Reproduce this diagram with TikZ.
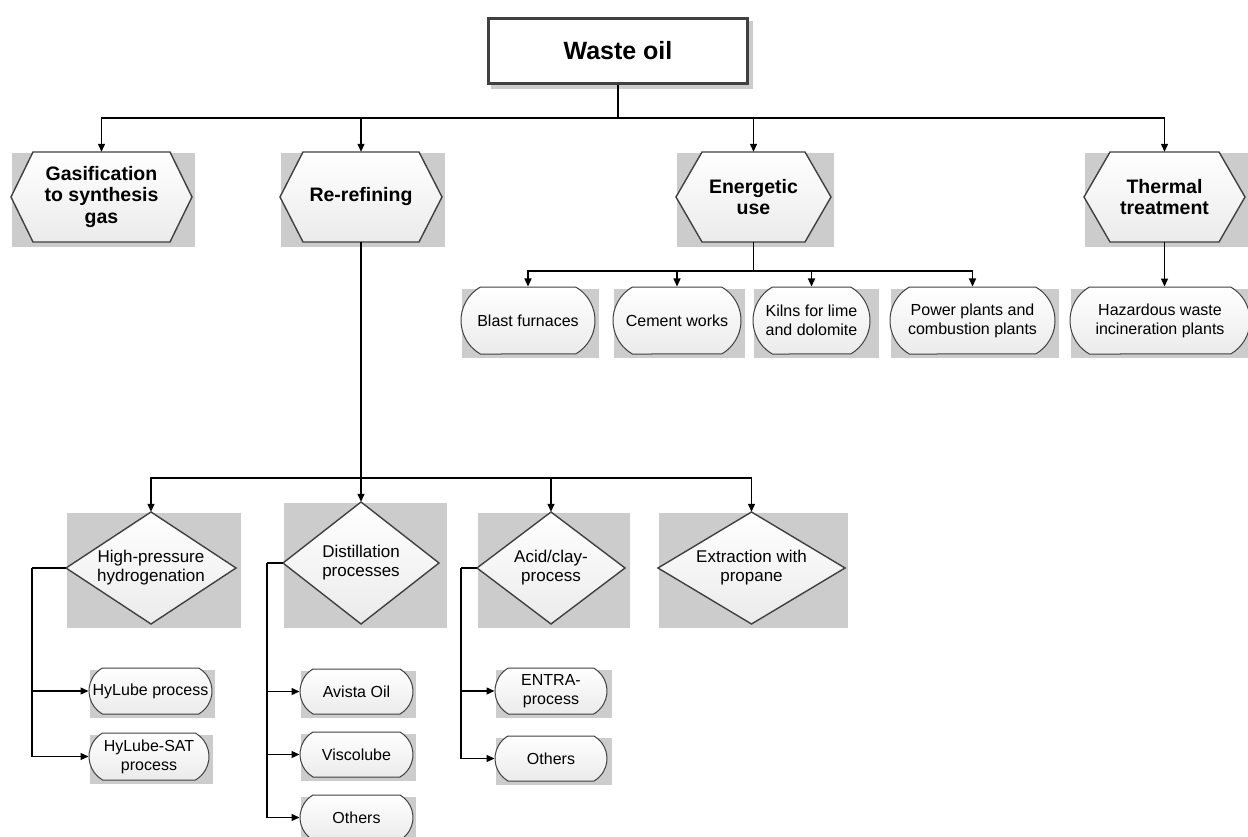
\documentclass[tikz,border=0pt]{standalone}
\usepackage{fontspec}
\setmainfont{Liberation Sans}
\usetikzlibrary{arrows.meta,shapes.misc,calc}

\definecolor{edge}{HTML}{404040}
\definecolor{backgray}{HTML}{CCCCCC}
\definecolor{fillbot}{HTML}{EBEBEB}

\tikzset{
  wire/.style={draw=black, line width=1.3},
  conn/.style={wire, -{Triangle[length=8,width=7]}},
  shapeline/.style={draw=edge, line width=1.4, top color=white, bottom color=fillbot},
  holder/.style={draw=none, inner sep=0, align=center},
  hexfont/.style={font=\bfseries\fontsize{19.5}{21.5}\selectfont},
  diafont/.style={font=\fontsize{17}{19}\selectfont},
  pill/.style={rounded rectangle, rounded rectangle arc length=120,
    draw=edge, line width=1, top color=white, bottom color=fillbot,
    inner sep=0, align=center, font=\fontsize{16}{19}\selectfont},
}

% hexagon: name, left, right, top, bottom, inset, text
\newcommand\hexnode[7]{%
  \fill[backgray] (#2+1,#4+1) rectangle (#3+3,#5+5);
  \draw[shapeline] (#2,{(#4+#5)/2}) -- (#2+#6,#4) -- (#3-#6,#4)
    -- (#3,{(#4+#5)/2}) -- (#3-#6,#5) -- (#2+#6,#5) -- cycle;
  \node[holder, hexfont, minimum width={#3-#2}, minimum height={#5-#4}]
    (#1) at ({(#2+#3)/2},{(#4+#5)/2}) {#7};
}
% diamond: name, left, right, top, bottom, backdrop right, text
\newcommand\dianode[7]{%
  \fill[backgray] (#2+1,#4+1) rectangle (#6,#5+4);
  \draw[shapeline] (#2,{(#4+#5)/2}) -- ({(#2+#3)/2},#4)
    -- (#3,{(#4+#5)/2}) -- ({(#2+#3)/2},#5) -- cycle;
  \node[holder, diafont, minimum width={#3-#2}, minimum height={#5-#4}]
    (#1) at ({(#2+#3)/2},{(#4+#5)/2}) {#7};
}
% rounded box: name, left, right, top, bottom, backdrop right, text
\newcommand\pillnode[7]{%
  \fill[backgray] (#2+1,#4+2) rectangle (#6,#5+4);
  \node[pill, minimum width={#3-#2}, minimum height={#5-#4}]
    (#1) at ({(#2+#3)/2},{(#4+#5)/2}) {#7};
}

\begin{document}
\begin{tikzpicture}[x=1pt, y=-1pt]
\useasboundingbox[fill=white] (0,0) rectangle (1248,837);

% root
\fill[backgray] (491,21) rectangle (753,89);
\node[draw=edge, line width=3, fill=white, minimum width=259, minimum height=65,
      inner sep=0, font=\bfseries\fontsize{25}{30}\selectfont]
  (root) at (618,51) {Waste oil};

% first level
\hexnode{gas}{11}{192}{152}{242}{22}{Gasification\\to synthesis\\gas}
\hexnode{reref}{280}{442}{152}{242}{23}{Re-refining}
\hexnode{energ}{676}{831}{152}{242}{26}{Energetic\\use}
\hexnode{thermal}{1084}{1245}{152}{242}{26}{Thermal\\treatment}

\coordinate (j1) at (618,118);
\draw[wire] (root) -- (j1);
\draw[conn] (j1) -| (gas);
\draw[conn] (j1) -| (reref);
\draw[conn] (j1) -| (energ);
\draw[conn] (j1) -| (thermal);

% energetic use and thermal treatment
\pillnode{blast}{461}{595}{287}{354}{599}{Blast furnaces}
\pillnode{cement}{613}{741}{287}{354}{745}{Cement works}
\pillnode{kilns}{753}{870}{287}{354}{879}{Kilns for lime\\and dolomite}
\pillnode{power}{890}{1055}{287}{354}{1059}{Power plants and\\combustion plants}
\pillnode{hazard}{1070}{1250}{287}{354}{1254}{Hazardous waste\\incineration plants}

\coordinate (j2) at (753.5,271);
\draw[wire] (energ) -- (j2);
\draw[conn] (j2) -| (blast);
\draw[conn] (j2) -| (cement);
\draw[conn] (j2) -| (kilns);
\draw[conn] (j2) -| (power);
\draw[conn] (thermal.south) -- (thermal.south |- hazard.north);

% re-refining processes
\dianode{hp}{66}{236}{512}{624}{241}{High-pressure\\hydrogenation}
\dianode{dist}{283}{439}{502}{624}{447}{Distillation\\processes}
\dianode{acid}{477}{625}{512}{624}{630}{Acid/clay-\\process}
\dianode{extr}{658}{845}{512}{624}{848}{Extraction with\\propane}

\coordinate (j3) at (361,478);
\draw[wire] (reref) -- (j3);
\draw[conn] (j3) -| (hp);
\draw[conn] (j3) -- (dist);
\draw[conn] (j3) -| (acid);
\draw[conn] (j3) -| (extr);

% named processes
\pillnode{hylube}{89}{212}{668}{714}{215}{HyLube process}
\pillnode{hysat}{89}{209}{733}{780}{213}{HyLube-SAT\\process}
\pillnode{avista}{300}{413}{669}{714}{416}{Avista Oil}
\pillnode{visco}{300}{413}{732}{777}{416}{Viscolube}
\pillnode{othdist}{300}{413}{795}{840}{416}{Others}
\pillnode{entra}{495}{607}{668}{714}{612}{ENTRA-\\process}
\pillnode{othacid}{495}{607}{736}{781}{612}{Others}

\coordinate (k1) at (32,568);
\draw[wire] (hp.west) -- (k1);
\draw[conn] (k1) |- (hylube);
\draw[conn] (k1) |- (hysat);

\coordinate (k2) at (267,563);
\draw[wire] (dist.west) -- (k2);
\draw[conn] (k2) |- (avista);
\draw[conn] (k2) |- (visco);
\draw[conn] (k2) |- (othdist);

\coordinate (k3) at (461,568);
\draw[wire] (acid.west) -- (k3);
\draw[conn] (k3) |- (entra);
\draw[conn] (k3) |- (othacid);
\end{tikzpicture}
\end{document}
